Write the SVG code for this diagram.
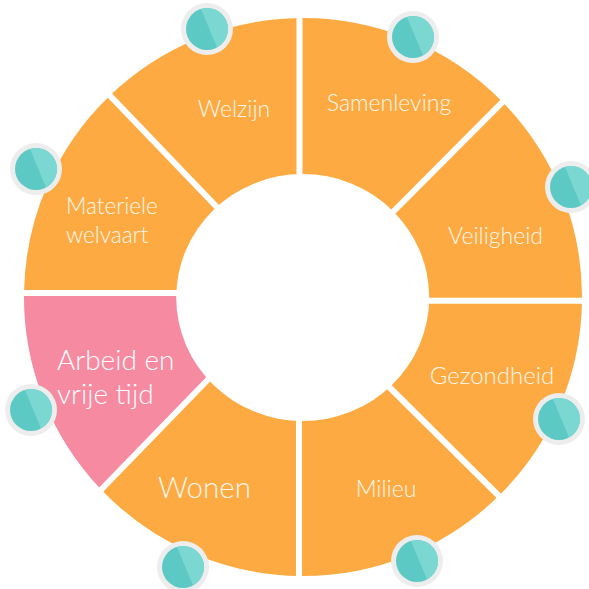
<svg xmlns="http://www.w3.org/2000/svg" width="589" height="589" viewBox="0 0 589 589">
  <style>
    .seg { fill: #FDAA42; }
    .seg.hl { fill: #F68AA1; }
    .lbl { font-family: Lato, "Open Sans", "Liberation Sans", sans-serif; font-weight: 300; fill: #FFF7EA; }
    .lbl.hl { fill: #FFFFFF; }
    .sep { stroke: #FFFFFF; stroke-width: 6; fill: none; }
  </style>
  <defs>
    <g id="dot">
      <circle r="26" fill="#EDEDED"/>
      <circle r="21" fill="#5DC9C4"/>
      <path d="M -6 -20.1 A 21 21 0 0 1 10 18.5 Z" fill="#7BD7D2"/>
    </g>
  </defs>
  <rect width="589" height="589" fill="#FFFFFF"/>

  <g id="samenleving">
    <path class="seg" d="M 299.5 250 L 299.5 18 A 279 279 0 0 1 502 101.5 L 339.5 266.3 L 303 297 Z"/>
    <text class="lbl" x="389" y="111" font-size="23" text-anchor="middle">Samenleving</text>
  </g>
  <g id="veiligheid">
    <path class="seg" d="M 339.5 266.3 L 502 101.5 A 279 279 0 0 1 582 300.7 L 350 300.7 L 303 297 Z"/>
    <text class="lbl" x="495.5" y="244" font-size="23" text-anchor="middle">Veiligheid</text>
  </g>
  <g id="gezondheid">
    <path class="seg" d="M 350 300.7 L 582 300.7 A 279 279 0 0 1 498.8 495.8 L 336 334.5 L 303 297 Z"/>
    <text class="lbl" x="492" y="384" font-size="24" text-anchor="middle">Gezondheid</text>
  </g>
  <g id="milieu">
    <path class="seg" d="M 336 334.5 L 498.8 495.8 A 279 279 0 0 1 299 576 L 299 350 L 303 297 Z"/>
    <text class="lbl" x="386" y="497" font-size="23" text-anchor="middle">Milieu</text>
  </g>
  <g id="wonen">
    <path class="seg" d="M 299 350 L 299 576 A 279 279 0 0 1 101.3 489.7 L 272.2 314 L 303 297 Z"/>
    <text class="lbl" x="204.5" y="498" font-size="29.5" text-anchor="middle">Wonen</text>
  </g>
  <g id="arbeid">
    <path class="seg hl" d="M 272.2 314 L 101.3 489.7 A 279 279 0 0 1 24 293 L 250 293 L 303 297 Z"/>
    <text class="lbl hl" x="57" y="369.5" font-size="28">Arbeid en</text>
    <text class="lbl hl" x="57" y="404" font-size="28">vrije tijd</text>
  </g>
  <g id="materiele">
    <path class="seg" d="M 250 293 L 24 293 A 279 279 0 0 1 110 95.5 L 268 260.3 L 303 297 Z"/>
    <text class="lbl" x="66" y="214" font-size="22.5">Materiele</text>
    <text class="lbl" x="66" y="243" font-size="22.5">welvaart</text>
  </g>
  <g id="welzijn">
    <path class="seg" d="M 268 260.3 L 110 95.5 A 279 279 0 0 1 299.5 18 L 299.5 250 L 303 297 Z"/>
    <text class="lbl" x="234" y="117" font-size="23" text-anchor="middle">Welzijn</text>
  </g>

  <g id="separators">
    <line class="sep" x1="299.5" y1="8" x2="299.5" y2="200"/>
    <line class="sep" x1="299" y1="400" x2="299" y2="586"/>
    <line class="sep" x1="14" y1="293" x2="200" y2="293"/>
    <line class="sep" x1="400" y1="300.7" x2="592" y2="300.7"/>
    <line class="sep" x1="103" y1="88.3" x2="236" y2="227"/>
    <line class="sep" x1="510" y1="94.4" x2="380" y2="225"/>
    <line class="sep" x1="370" y1="368" x2="506" y2="503"/>
    <line class="sep" x1="225" y1="362" x2="94" y2="497"/>
    <ellipse cx="302.7" cy="297.5" rx="126.5" ry="123.5" fill="#FFFFFF"/>
  </g>

  <g id="markers">
    <use href="#dot" x="207" y="29"/>
    <use href="#dot" x="413" y="37"/>
    <use href="#dot" x="571" y="187"/>
    <use href="#dot" x="559" y="419"/>
    <use href="#dot" x="417" y="561"/>
    <use href="#dot" x="183" y="567"/>
    <use href="#dot" x="31" y="410"/>
    <use href="#dot" x="36" y="169"/>
  </g>
</svg>
